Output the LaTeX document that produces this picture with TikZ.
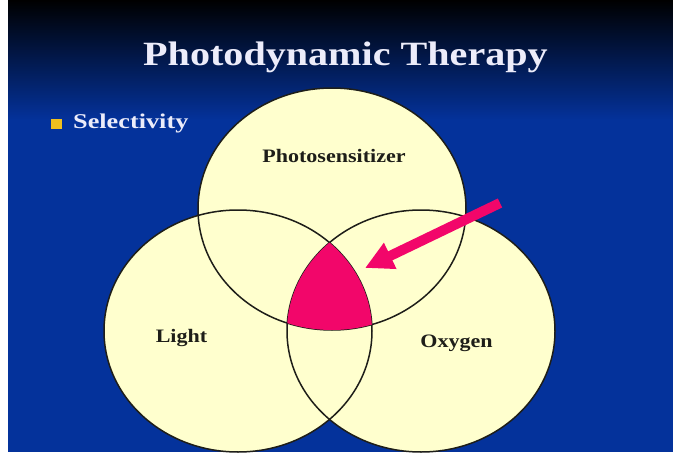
\documentclass[tikz,border=0pt]{standalone}
\usepackage{fontspec}
\setmainfont{Liberation Serif}
\usetikzlibrary{shapes.geometric,arrows.meta}
\definecolor{bgblue}{RGB}{4,50,155}
\definecolor{bgmid}{RGB}{6,28,92}
\definecolor{venn}{RGB}{255,255,206}
\definecolor{pinkfill}{RGB}{242,6,106}
\definecolor{bulletcol}{RGB}{240,192,30}
\definecolor{titlecol}{RGB}{236,236,250}
\definecolor{labelcol}{RGB}{30,30,25}
\begin{document}
\begin{tikzpicture}[x=1pt,y=-1pt,
  vennset/.style={ellipse, minimum width=268pt, minimum height=242pt, inner sep=0pt, fill=venn},
  vennline/.style={draw=labelcol, line width=1.5pt},
  setlabel/.style={anchor=base, inner sep=0pt, text=labelcol, font=\bfseries\fontsize{19}{19}\selectfont},
  titletext/.style={anchor=base, inner sep=0pt, text=titlecol, font=\bfseries\fontsize{34}{34}\selectfont},
  bullettext/.style={anchor=base west, inner sep=0pt, text=titlecol, font=\bfseries\fontsize{21}{21}\selectfont},
  pointer/.style={draw=pinkfill, line width=10pt, -{Triangle[length=28pt,width=27pt]}}
]
\useasboundingbox (0,0) rectangle (673,455);
\fill[white] (0,0) rectangle (673,455);
\fill[bgblue] (8,0) rectangle (673,452);
\shade[top color=black, middle color=bgmid, bottom color=bgblue] (8,0) rectangle (673,120);

\begin{scope}
  \clip (8,0) rectangle (673,452);
  \node[vennset] (light) at (238,331) {};
  \node[vennset] (oxygen) at (421,331) {};
  \node[vennset] (photo) at (332,209) {};
  \draw[vennline] (light.center) ellipse [x radius=134, y radius=121];
  \draw[vennline] (oxygen.center) ellipse [x radius=134, y radius=121];
  \draw[vennline] (photo.center) ellipse [x radius=134, y radius=121];
  \begin{scope}
    \clip (light.center) ellipse [x radius=134, y radius=121];
    \clip (oxygen.center) ellipse [x radius=134, y radius=121];
    \fill[pinkfill] (photo.center) ellipse [x radius=134, y radius=121];
  \end{scope}
\end{scope}

\node[titletext] (title) at (345.5,65) {\scalebox{1.18}[1]{Photodynamic Therapy}};
\node[fill=bulletcol, minimum width=11pt, minimum height=10pt, inner sep=0pt] (bullet) at (56,123.5) {};
\node[bullettext] (sel) at (73,128) {\scalebox{1.25}[1]{Selectivity}};

\node[setlabel] (photolabel) at (334,162) {\scalebox{1.16}[1]{Photosensitizer}};
\node[setlabel] (lightlabel) at (181.5,342) {\scalebox{1.16}[1]{Light}};
\node[setlabel] (oxylabel) at (456.5,347) {\scalebox{1.16}[1]{Oxygen}};

\coordinate (tail) at (500,203);
\coordinate (tip) at (365,268);
\draw[pointer] (tail) -- (tip);
\end{tikzpicture}
\end{document}
